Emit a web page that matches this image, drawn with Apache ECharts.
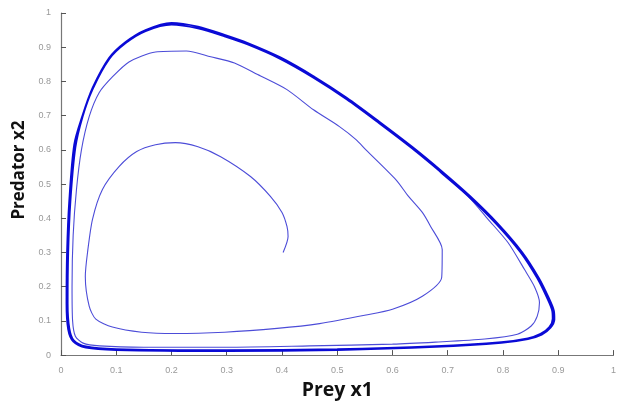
<!DOCTYPE html>
<html>
<head>
<meta charset="utf-8">
<script src="https://cdn.jsdelivr.net/npm/echarts@6/dist/echarts.min.js"></script>
<style>
html,body{margin:0;padding:0;background:#fff;}
#c{width:619px;height:405px;}
</style>
</head>
<body>
<div id="c"></div>
<script>
// Trajectory (prey x1, predator x2)
var prey = [
0.402,0.411,0.409,0.400,0.379,0.343,0.289,0.248,0.207,0.171,0.137,0.105,0.075,0.057,0.048,0.044,0.051,0.063,0.093,0.146,0.206,0.296,0.391,0.468,0.552,0.600,0.654,0.689,0.690,0.669,0.654,0.629,0.606,0.552,0.534,0.504,0.457,0.409,0.356,0.314,0.271,0.227,0.171,0.123,0.093,0.069,0.051,0.037,0.028,0.022,0.020,0.021,0.026,0.040,0.070,0.150,0.300,0.450,0.600,0.678,0.767,0.826,0.851,0.862,0.866,0.857,0.839,0.809,0.773,0.737,0.690,
0.636,0.576,0.517,0.457,0.397,0.338,0.296,0.248,0.200,0.153,0.117,0.087,0.057,0.039,0.026,0.017,0.013,0.012,0.015,0.023,0.045,0.100,0.300,0.500,0.678,0.797,0.845,0.868,0.884,0.890,0.889,0.879,0.862,0.832,0.787,0.737,0.688,
0.636,0.576,0.517,0.457,0.397,0.338,0.296,0.248,0.200,0.153,0.117,0.087,0.057,0.039,0.024,0.015,0.011,0.010,0.013,0.022,0.045,0.100,0.300,0.500,0.678,0.797,0.845,0.870,0.886,0.893,0.892,0.882,0.865,0.835,0.790,0.740,0.690,0.636,0.576,0.517,0.457
];
var predator = [
0.300,0.347,0.376,0.417,0.464,0.522,0.580,0.609,0.621,0.615,0.595,0.551,0.484,0.397,0.300,0.230,0.143,0.105,0.082,0.067,0.063,0.067,0.078,0.092,0.117,0.134,0.172,0.227,0.309,0.376,0.417,0.464,0.513,0.600,0.630,0.668,0.717,0.776,0.820,0.854,0.872,0.889,0.886,0.857,0.813,0.767,0.697,0.600,0.484,0.350,0.200,0.100,0.055,0.035,0.027,0.023,0.023,0.027,0.032,0.038,0.047,0.061,0.085,0.114,0.154,0.200,0.250,0.329,0.397,0.464,0.532,
0.604,0.678,0.748,0.811,0.866,0.908,0.932,0.955,0.966,0.947,0.912,0.865,0.777,0.697,0.607,0.450,0.300,0.150,0.078,0.043,0.025,0.017,0.014,0.017,0.026,0.038,0.049,0.062,0.082,0.106,0.130,0.170,0.225,0.300,0.385,0.465,0.534,
0.608,0.682,0.752,0.815,0.870,0.912,0.936,0.960,0.971,0.950,0.915,0.868,0.780,0.700,0.615,0.450,0.300,0.150,0.075,0.040,0.022,0.015,0.012,0.015,0.024,0.036,0.047,0.060,0.080,0.105,0.130,0.170,0.225,0.300,0.385,0.465,0.536,0.608,0.682,0.752,0.815
];
var ticks = [0,0.1,0.2,0.3,0.4,0.5,0.6,0.7,0.8,0.9,1];
var innerCount = 71; // points up to where the trajectory joins the limit cycle

var data = prey.map(function(x,i){return [x, predator[i]];});
var innerData = data.slice(0, innerCount);
var outerData = data.slice(innerCount - 1);
var chart = echarts.init(document.getElementById('c'), null, {renderer:'canvas'});
function axisCommon(name, gap, rot, fs){
  return {
    type:'value', min:ticks[0], max:ticks[ticks.length-1], interval:0.1,
    name:name, nameLocation:'middle', nameGap:gap, nameRotate:rot,
    nameTextStyle:{fontFamily:'Open Sans', fontWeight:'bold', fontSize:fs, color:'#111'},
    axisLine:{show:true, lineStyle:{color:'#777', width:1.2}},
    axisTick:{show:true, inside:true, length:5, lineStyle:{color:'#555'}},
    axisLabel:{color:'#999', fontSize:9, fontFamily:'Liberation Sans',
      formatter:function(v){return String(Math.round(v*10)/10);}},
    splitLine:{show:false}
  };
}
var xa = axisCommon('Prey x1', 23, 0, 19.5); xa.axisLabel.margin = 11;
var ya = axisCommon('Predator x2', 31, 90, 17); ya.axisLabel.margin = 10;
ya.nameTextStyle.padding = [0,0,0,28];
chart.setOption({
  animation:false,
  backgroundColor:'#fff',
  grid:{left:61, right:-1, top:13, bottom:49, containLabel:false},
  xAxis:xa,
  yAxis:ya,
  series:[{
    type:'line', data:innerData, showSymbol:false, symbol:'none', smooth:0.25,
    lineStyle:{color:'#4c4cd8', width:1.1}
  },{
    type:'line', data:outerData, showSymbol:false, symbol:'none', smooth:0.3,
    lineStyle:{color:'#0a0ad6', width:1.9}
  }]
});
</script>
</body>
</html>
